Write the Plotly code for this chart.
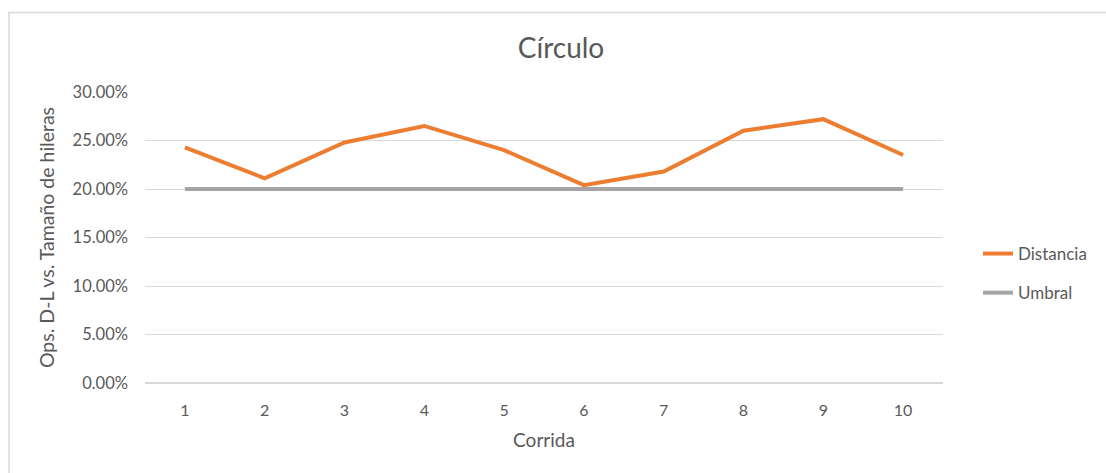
import plotly.graph_objects as go

# Run numbers and measured ratios
corridas = ["1", "2", "3", "4", "5", "6", "7", "8", "9", "10"]
distancia = [0.243, 0.211, 0.248, 0.265, 0.240, 0.204, 0.218, 0.260, 0.272, 0.235]
umbral = [0.20, 0.20, 0.20, 0.20, 0.20, 0.20, 0.20, 0.20, 0.20, 0.20]
y_ticks = [0.0, 0.05, 0.10, 0.15, 0.20, 0.25, 0.30]

W, H = 1106, 473
L, R, T, B = 145, 163, 92, 90
pw, ph = W - L - R, H - T - B

FONT = "Lato"
TXT = "#595959"
GRID = "#d9d9d9"

fig = go.Figure()
fig.add_trace(go.Scatter(
    x=corridas, y=distancia, name="Distancia", mode="lines",
    line=dict(color="#ED7D31", width=4), legendgroup="a",
))
fig.add_trace(go.Scatter(
    x=corridas, y=umbral, name="Umbral", mode="lines",
    line=dict(color="#A5A5A5", width=4), legendgroup="b",
))

def px_x(p):
    return (p - L) / pw

def px_y(p):
    return (H - B - p) / ph

# thin frame around the chart area
fig.add_shape(
    type="rect", xref="paper", yref="paper",
    x0=px_x(9), x1=px_x(1120), y0=px_y(490), y1=px_y(12.5),
    line=dict(color=GRID, width=1.5), fillcolor="rgba(0,0,0,0)", layer="below",
)

fig.update_layout(
    width=W, height=H,
    margin=dict(l=L, r=R, t=T, b=B, autoexpand=False),
    paper_bgcolor="white", plot_bgcolor="white",
    font=dict(family=FONT, color=TXT, size=16),
    title=dict(text="Círculo", x=561 / W, xanchor="center",
               y=1 - 48 / H, yanchor="middle",
               font=dict(size=28, color=TXT, family=FONT)),
    showlegend=True,
    legend=dict(x=px_x(978), y=px_y(273.5), xanchor="left", yanchor="middle",
                font=dict(size=17, color=TXT, family=FONT),
                tracegroupgap=14, bgcolor="rgba(0,0,0,0)"),
    xaxis=dict(
        type="category", range=[-0.5, 9.5],
        showgrid=False, showline=False, zeroline=False,
        ticks="", ticklabelstandoff=16,
        tickfont=dict(size=16, color=TXT),
        title=dict(text="Corrida", standoff=15, font=dict(size=19, color=TXT)),
    ),
    yaxis=dict(
        range=[0, 0.3], tickvals=y_ticks, tickformat=".2%",
        showgrid=True, gridcolor=GRID, gridwidth=1,
        zeroline=True, zerolinecolor=GRID, zerolinewidth=1.5,
        showline=False, ticks="", ticklabelstandoff=16,
        tickfont=dict(size=16.5, color=TXT),
        title=dict(text="Ops. D-L vs. Tamaño de hileras", standoff=12,
                   font=dict(size=19.5, color=TXT)),
    ),
)

fig.write_html("out.html")
